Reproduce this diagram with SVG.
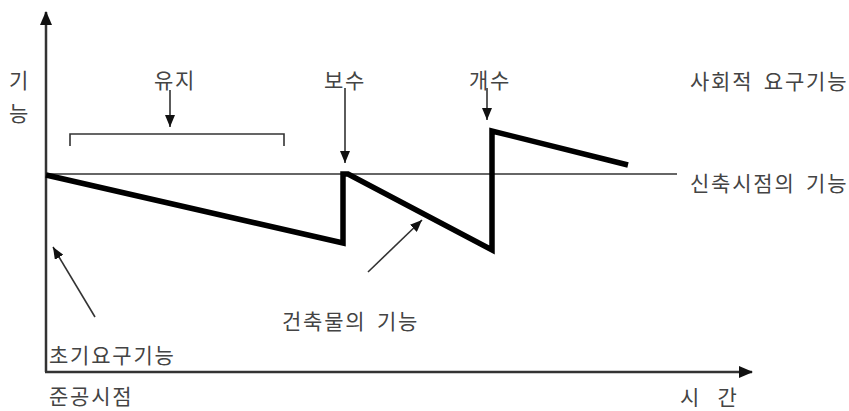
<svg xmlns="http://www.w3.org/2000/svg" width="849" height="411" viewBox="0 0 849 411">
<defs>
<marker id="ah" markerUnits="userSpaceOnUse" markerWidth="14" markerHeight="12" refX="13" refY="6" orient="auto">
<path d="M0,0 L14,6 L0,12 Z" fill="#111"/>
</marker>
<marker id="ahs" markerUnits="userSpaceOnUse" markerWidth="12" markerHeight="10" refX="12" refY="5" orient="auto">
<path d="M0,0 L12,5 L0,10 Z" fill="#111"/>
</marker>
<style>
text{font-family:"Noto Sans CJK KR","Noto Sans",sans-serif;font-size:21px;fill:#444;letter-spacing:1.8px;word-spacing:4px}
.ax{stroke:#333;stroke-width:2.5;fill:none}
.thin{stroke:#333;stroke-width:1.6;fill:none}
.thick{stroke:#000;stroke-width:5.5;fill:none;stroke-linejoin:miter}
</style>
</defs>
<rect width="849" height="411" fill="#fff"/>
<g id="connectors">
<line class="ax" x1="46" y1="372" x2="46" y2="12" marker-end="url(#ah)"/>
<line class="ax" x1="45" y1="372" x2="752" y2="372" marker-end="url(#ah)"/>
<line class="thin" x1="46" y1="174" x2="677" y2="174"/>
<path class="thin" d="M70,146 V134 H284 V146"/>
<line class="thin" x1="170" y1="90" x2="170" y2="127" marker-end="url(#ahs)"/>
<line class="thin" x1="345" y1="88" x2="345" y2="163" marker-end="url(#ahs)"/>
<line class="thin" x1="487" y1="88" x2="487" y2="120" marker-end="url(#ahs)"/>
<line class="thin" x1="95" y1="317" x2="53" y2="247" marker-end="url(#ahs)"/>
<line class="thin" x1="368" y1="272" x2="422" y2="220" marker-end="url(#ahs)"/>
<path class="thick" d="M46,175 L343,243 L343,174 L348,174 L492,250 L492,131 L628,165"/>
</g>
<g id="y-label"><text x="9" y="88">기</text><text x="9" y="121">능</text></g>
<g id="maintain"><text x="154" y="88">유지</text></g>
<g id="repair"><text x="324" y="88">보수</text></g>
<g id="renovation"><text x="469" y="88">개수</text></g>
<g id="social"><text x="690" y="89">사회적 요구기능</text></g>
<g id="newbuild"><text x="690" y="191">신축시점의 기능</text></g>
<g id="building"><text x="282" y="329">건축물의 기능</text></g>
<g id="initial"><text x="49" y="363">초기요구기능</text></g>
<g id="completion"><text x="49" y="404">준공시점</text></g>
<g id="time"><text x="680" y="405" style="word-spacing:10px">시 간</text></g>
</svg>
